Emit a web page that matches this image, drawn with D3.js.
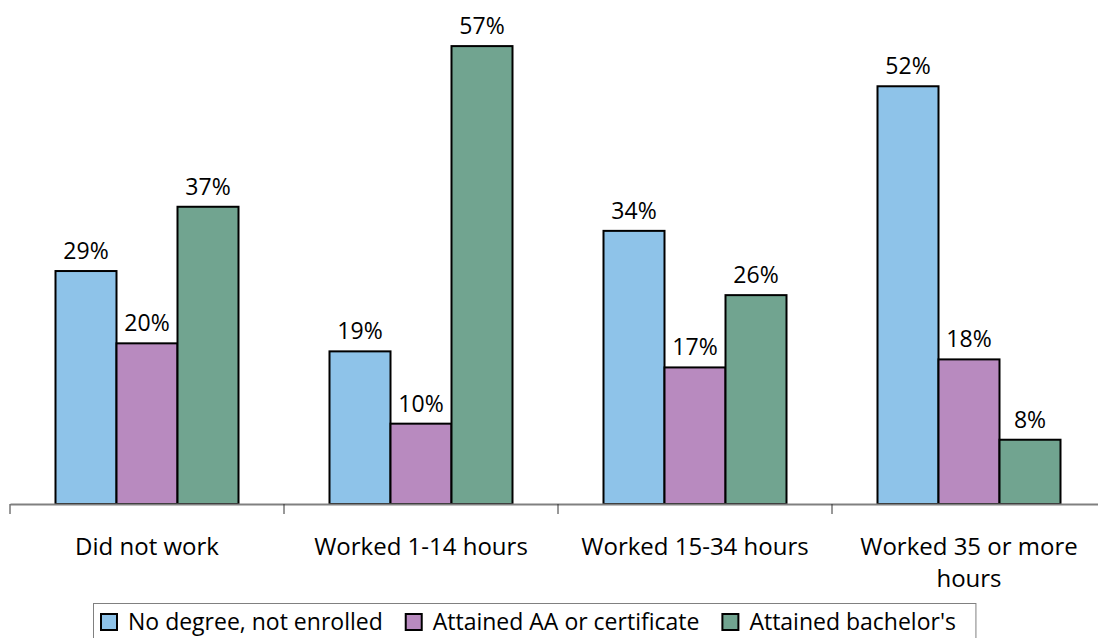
<html>
<head>
  <meta charset="utf-8">
  <title>Work hours and attainment</title>
  <script src="https://d3js.org/d3.v7.min.js"></script>
  <style>
    body { margin: 0; background: #fff; }
    text { font-family: "Open Sans", sans-serif; fill: #000; }
  </style>
</head>
<body>
<div id="chart"></div>
<script>
// data
var categories = ["Did not work", "Worked 1-14 hours", "Worked 15-34 hours", "Worked 35 or more hours"]
var seriesNames = ["No degree, not enrolled", "Attained AA or certificate", "Attained bachelor's"]
var noDegree = [29, 19, 34, 52]
var attainedAA = [20, 10, 17, 18]
var attainedBA = [37, 57, 26, 8]
var colors = ["#8ec3e9", "#b88abf", "#71a490"]

var W = 1098, H = 638
var baseY = 504

var svg = d3.select("#chart").append("svg")
    .attr("width", W)
    .attr("height", H)

var x0 = d3.scaleBand()
    .domain(categories)
    .range([10, 1106])
    .paddingInner(0)
    .paddingOuter(0)

var x1 = d3.scaleBand()
    .domain(seriesNames)
    .range([45.5, x0.bandwidth() - 45.5])

var y = d3.scaleLinear()
    .domain([0, 60])
    .range([baseY, 22])

var rows = categories.map(function(c, i) {
  return { cat: c, vals: [noDegree[i], attainedAA[i], attainedBA[i]] }
})

// bars
var groups = svg.selectAll(".grp")
  .data(rows)
  .enter().append("g")
    .attr("transform", function(d) { return "translate(" + x0(d.cat) + ",0)" })

groups.selectAll("rect")
  .data(function(d) { return d.vals.map(function(v, j) { return { s: seriesNames[j], v: v, j: j } }) })
  .enter().append("rect")
    .attr("x", function(d) { return x1(d.s) })
    .attr("y", function(d) { return y(d.v) })
    .attr("width", x1.bandwidth())
    .attr("height", function(d) { return baseY - y(d.v) })
    .attr("fill", function(d) { return colors[d.j] })
    .attr("stroke", "#000")
    .attr("stroke-width", 2)

groups.selectAll(".lbl")
  .data(function(d) { return d.vals.map(function(v, j) { return { s: seriesNames[j], v: v } }) })
  .enter().append("text")
    .attr("x", function(d) { return x1(d.s) + x1.bandwidth() / 2 })
    .attr("y", function(d) { return y(d.v) - 12 })
    .attr("text-anchor", "middle")
    .style("font-size", "23px")
    .text(function(d) { return d.v + "%" })

// x axis
var xAxis = d3.axisBottom(x0)
    .tickValues([])
    .tickSizeOuter(0)
var ax = svg.append("g")
    .attr("transform", "translate(0," + baseY + ")")
    .call(xAxis)
ax.select(".domain").attr("stroke", "#808080").attr("stroke-width", 2)

// tick marks at band edges
ax.selectAll(".edge")
  .data(categories)
  .enter().append("line")
    .attr("x1", function(d) { return x0(d) })
    .attr("x2", function(d) { return x0(d) })
    .attr("y1", 0)
    .attr("y2", 10)
    .attr("stroke", "#333")
    .attr("stroke-width", 1)

// category labels, wrapped
var wraps = { "Worked 35 or more hours": ["Worked 35 or more", "hours"] }
categories.forEach(function(c) {
  var lines = wraps[c] || [c]
  var t = svg.append("text")
    .attr("text-anchor", "middle")
    .style("font-size", "24px")
  lines.forEach(function(l, i) {
    t.append("tspan")
      .attr("x", x0(c) + x0.bandwidth() / 2)
      .attr("y", 555 + i * 32)
      .text(l)
  })
})

// legend
var leg = svg.append("g")
var lx = 100
seriesNames.forEach(function(n, i) {
  leg.append("rect")
    .attr("x", lx + 1)
    .attr("y", 614)
    .attr("width", 16)
    .attr("height", 16)
    .attr("fill", colors[i])
    .attr("stroke", "#000")
    .attr("stroke-width", 2)
  var t = leg.append("text")
    .attr("x", lx + 28)
    .attr("y", 630)
    .style("font-size", "23px")
    .text(n)
  lx = lx + 28 + t.node().getComputedTextLength() + 22
})
leg.insert("rect", ":first-child")
    .attr("x", 93.5)
    .attr("y", 603.5)
    .attr("width", lx - 22 + 20 - 93.5)
    .attr("height", 40)
    .attr("fill", "#fff")
    .attr("stroke", "#808080")
    .attr("stroke-width", 1)
</script>
</body>
</html>
